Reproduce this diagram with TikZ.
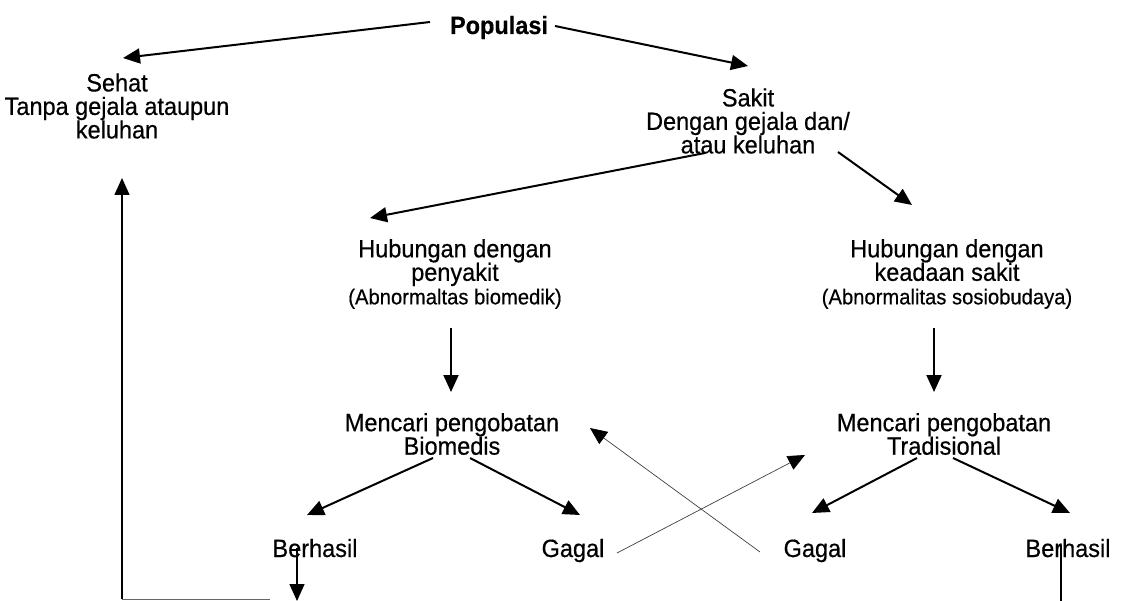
\documentclass[tikz,border=0pt]{standalone}
\usepackage{fontspec}
\setmainfont[FakeStretch=0.94,FakeBold=0.5]{Liberation Sans}
\usetikzlibrary{arrows.meta}
\begin{document}
\begin{tikzpicture}[x=1pt,y=-1pt,
  txt/.style={align=center,inner sep=0pt,font=\fontsize{25}{23.5}\selectfont},
  lbl/.style={inner sep=0pt,anchor=base,font=\fontsize{25}{23.5}\selectfont},
  arr/.style={line width=2pt,-{Triangle[length=17pt,width=15pt]}},
  thinarr/.style={line width=0.7pt,draw=black!75,-{Triangle[length=17pt,width=15pt,fill=black,color=black]}},
  loopline/.style={line width=1.4pt}]
\useasboundingbox (0,0) rectangle (1123,601);

% nodes
\node[lbl,font=\fontsize{25}{23.5}\selectfont\bfseries] (pop) at (499,34) {Populasi};
\node[txt] (sehat) at (117,106) {Sehat\\Tanpa gejala ataupun\\keluhan};
\node[txt] (sakit) at (748,121) {Sakit\\Dengan gejala dan/\\atau keluhan};
\node[txt] (hubL) at (455,274) {Hubungan dengan\\penyakit\\{\fontsize{21.5}{20}\selectfont (Abnormaltas biomedik)}};
\node[txt] (hubR) at (947,274) {Hubungan dengan\\keadaan sakit\\{\fontsize{21.5}{20}\selectfont (Abnormalitas sosiobudaya)}};
\node[txt] (mcL) at (452,434) {Mencari pengobatan\\Biomedis};
\node[txt] (mcR) at (944,434) {Mencari pengobatan\\Tradisional};
\node[lbl] (berL) at (315,557) {Berhasil};
\node[lbl] (gagL) at (573,557) {Gagal};
\node[lbl] (gagR) at (815,557) {Gagal};
\node[lbl] (berR) at (1068,557) {Berhasil};

% connector ends
\coordinate (p1) at (430,22);   \coordinate (t1) at (123,58);
\coordinate (p2) at (555,26);   \coordinate (t2) at (748,66);
\coordinate (p3) at (705,153);  \coordinate (t3) at (370,218);
\coordinate (p4) at (838,152);  \coordinate (t4) at (912,205);
\coordinate (p5) at (451,328);  \coordinate (t5) at (451,392);
\coordinate (p6) at (934,328);  \coordinate (t6) at (934,392);
\coordinate (p7) at (433,458);  \coordinate (t7) at (307,515);
\coordinate (p8) at (470,458);  \coordinate (t8) at (580,515);
\coordinate (p9) at (917,458);  \coordinate (t9) at (812,513);
\coordinate (p10) at (953,458); \coordinate (t10) at (1070,513);
\coordinate (p11) at (617,553); \coordinate (t11) at (805,455);
\coordinate (p12) at (760,552); \coordinate (t12) at (590,428);
\coordinate (p13) at (297,548); \coordinate (t13) at (297,601);
\coordinate (p14) at (1061,545); \coordinate (e14) at (1061,601);
\coordinate (c15) at (122,599); \coordinate (e15) at (270,599);
\coordinate (t15) at (122,178);

% main tree
\draw[arr] (p1) -- (t1);
\draw[arr] (p2) -- (t2);
\draw[arr] (p3) -- (t3);
\draw[arr] (p4) -- (t4);
\draw[arr] (p5) -- (t5);
\draw[arr] (p6) -- (t6);
\draw[arr] (p7) -- (t7);
\draw[arr] (p8) -- (t8);
\draw[arr] (p9) -- (t9);
\draw[arr] (p10) -- (t10);

% failures switch to the other treatment
\draw[thinarr] (p11) -- (t11);
\draw[thinarr] (p12) -- (t12);

% successes return to health
\draw[arr,line width=1.4pt] (p13) -- (t13);
\draw[loopline] (p14) -- (e14);
\draw[line width=1pt,black!60] (e15) -- (c15);
\draw[loopline,-{Triangle[length=17pt,width=15pt]}] (c15) -- (t15);
\end{tikzpicture}
\end{document}
